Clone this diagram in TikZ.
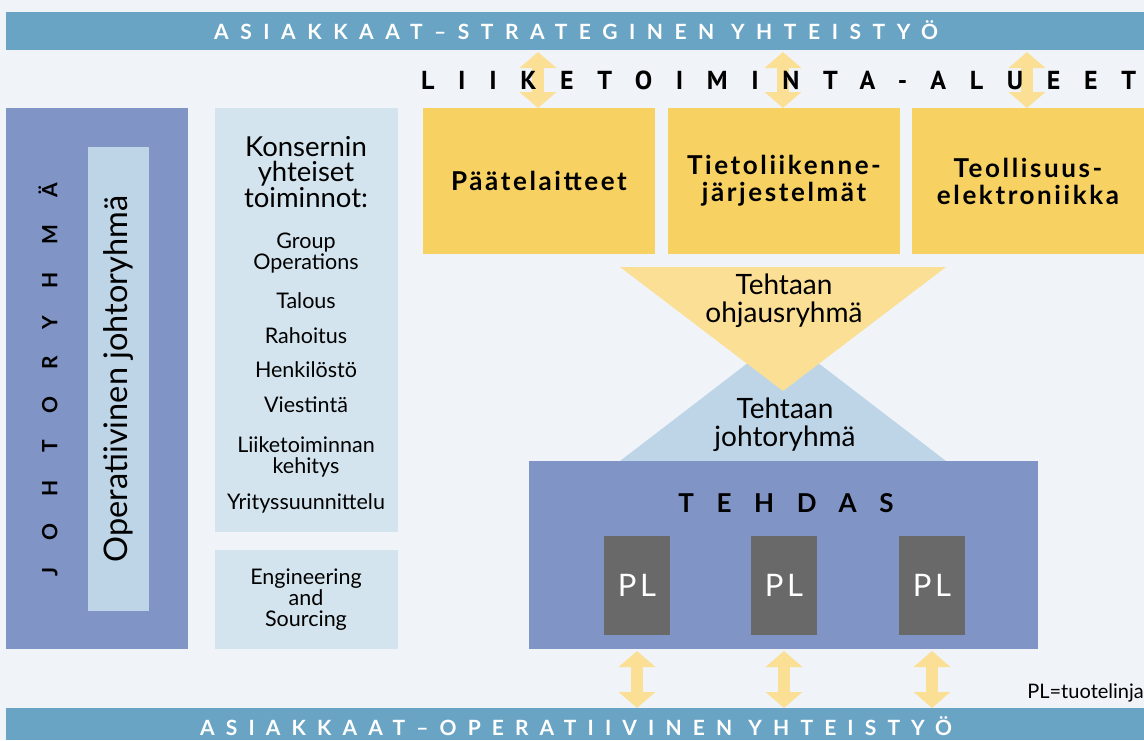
\documentclass[tikz,border=0pt]{standalone}
\usepackage{fontspec}
\setmainfont{Lato}
\newfontfamily\ptsans{PT Sans}
\usetikzlibrary{arrows.meta}
\definecolor{bgc}{HTML}{F0F4F9}
\definecolor{banner}{HTML}{6AA4C4}
\definecolor{ybox}{HTML}{F7D162}
\definecolor{lyel}{HTML}{FADF94}
\definecolor{purp}{HTML}{8094C6}
\definecolor{lblue}{HTML}{BDD5E6}
\definecolor{llblue}{HTML}{D3E4EE}
\definecolor{plgray}{HTML}{696969}
\tikzset{
  box/.style={anchor=north west, inner sep=0pt, outer sep=0pt, draw=none},
  bannertext/.style={text=white, inner sep=0pt, anchor=base, font=\bfseries\fontsize{21}{23}\selectfont\addfontfeature{LetterSpace=#1}},
  ybx/.style={box, fill=ybox, minimum width=232pt, minimum height=146pt},
  ytext/.style={align=center, font=\bfseries\fontsize{26}{27}\selectfont\addfontfeature{LetterSpace=10}},
  dblarrow/.style={draw=lyel, line width=12pt, {Triangle[width=36pt,length=16pt]}-{Triangle[width=36pt,length=16pt]}},
  pl/.style={fill=plgray, minimum width=66pt, minimum height=99pt, inner sep=0pt, text=white, font=\fontsize{31}{33}\selectfont\addfontfeature{LetterSpace=12}},
  item/.style={align=center, font=\fontsize{21.5}{21}\selectfont},
  tri/.style={align=center, font=\fontsize{28}{28}\selectfont},
}
\begin{document}
\begin{tikzpicture}[x=1pt,y=-1pt]
\useasboundingbox (0,0) rectangle (1144,740);
\fill[bgc] (0,0) rectangle (1144,740);
% banners
\node[box, fill=banner, minimum width=1138pt, minimum height=38pt] (top) at (6,12) {};
\node[bannertext=55] (toptext) at (576,39) {ASIAKKAAT–STRATEGINEN YHTEISTYÖ};
\node[box, fill=banner, minimum width=1138pt, minimum height=32pt] (bot) at (6,708) {};
\node[bannertext=53] (bottext) at (576,735) {ASIAKKAAT–OPERATIIVINEN YHTEISTYÖ};
% business areas
\node[ybx] (b1) at (423,108) {};
\node[ybx] (b2) at (668,108) {};
\node[ybx] (b3) at (912,108) {};
\node[ytext] (t1) at (b1.center) {Päätelaitteet};
\node[ytext] (t2) at (b2.center) {Tietoliikenne-\\järjestelmät};
\node[ytext] (t3) at (b3.center) {Teollisuus-\\elektroniikka};
\coordinate (a1) at (538,108);
\coordinate (a2) at (783,108);
\coordinate (a3) at (1027,108);
\draw[dblarrow] (a1 |- top.south) ++(0,2) -- (a1);
\draw[dblarrow] (a2 |- top.south) ++(0,2) -- (a2);
\draw[dblarrow] (a3 |- top.south) ++(0,2) -- (a3);
\node[anchor=west, inner sep=0pt, font=\ptsans\bfseries\fontsize{26}{28}\selectfont\addfontfeature{LetterSpace=91}] (area) at (421,80) {LIIKETOIMINTA-ALUEET};
% triangles
\fill[lblue] (620,461) -- (783,336) -- (946,461) -- cycle;
\fill[lyel] (620,267) -- (946,267) -- (783,391) -- cycle;
\node[tri] (ohj) at (784,301) {Tehtaan\\ohjausryhmä};
\node[tri] (tjr) at (785,425) {Tehtaan\\johtoryhmä};
% factory
\node[box, fill=purp, minimum width=509pt, minimum height=188pt] (tehdas) at (529,461) {};
\node[font=\bfseries\fontsize{26}{28}\selectfont\addfontfeature{LetterSpace=87}] (tehdastxt) at (786,503) {TEHDAS};
\node[pl] (p1) at (637,585.5) {PL};
\node[pl] (p2) at (784,585.5) {PL};
\node[pl] (p3) at (932,585.5) {PL};
\draw[dblarrow] (p1 |- tehdas.south) ++(0,2) -- (p1 |- bot.north);
\draw[dblarrow] (p2 |- tehdas.south) ++(0,2) -- (p2 |- bot.north);
\draw[dblarrow] (p3 |- tehdas.south) ++(0,2) -- (p3 |- bot.north);
\node[anchor=east, inner sep=0pt, font=\fontsize{20}{22}\selectfont] (legend) at (1144,693) {PL=tuotelinja};
% left column
\node[box, fill=purp, minimum width=182pt, minimum height=541pt] (johto) at (6,108) {};
\node[box, fill=lblue, minimum width=61pt, minimum height=464pt] (opjohto) at (88,147) {};
\node[rotate=90, font=\bfseries\fontsize{21}{24}\selectfont\addfontfeature{LetterSpace=130}] (johtotxt) at (48,380) {JOHTORYHMÄ};
\node[rotate=90, font=\fontsize{32.5}{34}\selectfont] (optxt) at (opjohto.center) {Operatiivinen johtoryhmä};
% middle column
\node[box, fill=llblue, minimum width=183pt, minimum height=424pt] (kons) at (215,108) {};
\node[box, fill=llblue, minimum width=183pt, minimum height=99pt] (eng) at (215,550) {};
\node[align=center, font=\fontsize{27.5}{25.5}\selectfont] (konstxt) at (306,172) {Konsernin\\yhteiset\\toiminnot:};
\node[item] (i1) at (306,253.5) {Group\\Operations};
\node[item] (i2) at (306,301) {Talous};
\node[item] (i3) at (306,336) {Rahoitus};
\node[item] (i4) at (306,370) {Henkilöstö};
\node[item] (i5) at (306,405) {Viestintä};
\node[item] (i6) at (306,457) {Liiketoiminnan\\kehitys};
\node[item] (i7) at (306,503) {Yrityssuunnittelu};
\node[item] (engtxt) at (306,600) {Engineering\\and\\Sourcing};
\end{tikzpicture}
\end{document}
